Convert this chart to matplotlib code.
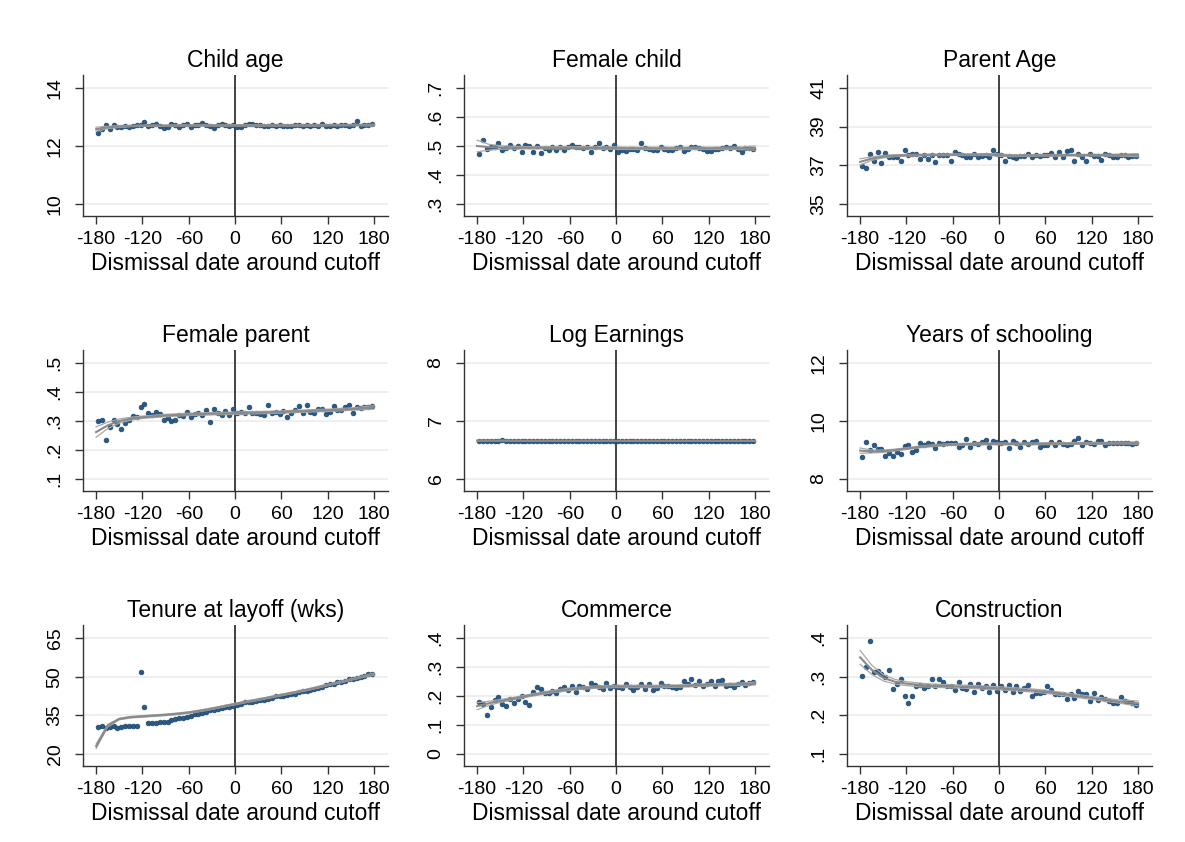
import numpy as np
import matplotlib
matplotlib.use("Agg")
import matplotlib.pyplot as plt

plt.rcParams['font.family'] = ['Liberation Sans', 'DejaVu Sans']

# bin centres (days around cutoff)
DAYS = np.arange(-177.5, 180, 5)

# grid for the fitted curves
FIT_X = np.arange(-180, 181, 15)

# --- scatter values (bin means) ---
child_age = [
    12.45, 12.60, 12.74, 12.60, 12.71, 12.66, 12.65, 12.70, 12.65, 12.68, 12.71, 12.74,
    12.84, 12.70, 12.74, 12.75, 12.70, 12.63, 12.64, 12.75, 12.72, 12.64, 12.74, 12.76,
    12.64, 12.71, 12.74, 12.79, 12.72, 12.68, 12.63, 12.74, 12.75, 12.72, 12.68, 12.71,
    12.66, 12.67, 12.74, 12.75, 12.76, 12.72, 12.71, 12.68, 12.70, 12.73, 12.69, 12.73,
    12.70, 12.70, 12.68, 12.72, 12.71, 12.69, 12.73, 12.70, 12.74, 12.70, 12.75, 12.70,
    12.69, 12.72, 12.70, 12.72, 12.73, 12.70, 12.74, 12.86, 12.68, 12.73, 12.74, 12.76]

female_child = [
    .474, .522, .491, .495, .497, .509, .485, .494, .502, .493, .499, .478,
    .503, .499, .481, .500, .476, .494, .488, .498, .487, .498, .488, .497,
    .502, .497, .497, .494, .498, .479, .497, .510, .494, .497, .491, .502,
    .481, .487, .483, .490, .490, .486, .510, .492, .491, .487, .485, .496,
    .490, .486, .488, .494, .495, .483, .490, .497, .495, .493, .491, .482,
    .483, .491, .490, .493, .496, .493, .499, .489, .479, .494, .494, .491]

parent_age = [
    36.95, 36.87, 37.60, 37.24, 37.67, 37.14, 37.62, 37.41, 37.45, 37.41, 37.24, 37.79,
    37.53, 37.60, 37.60, 37.34, 37.56, 37.32, 37.51, 37.17, 37.53, 37.54, 37.53, 37.20,
    37.69, 37.61, 37.56, 37.41, 37.44, 37.61, 37.41, 37.49, 37.54, 37.41, 37.82, 37.61,
    37.56, 37.20, 37.49, 37.44, 37.37, 37.49, 37.49, 37.60, 37.41, 37.53, 37.49, 37.56,
    37.56, 37.65, 37.44, 37.70, 37.41, 37.73, 37.82, 37.20, 37.60, 37.41, 37.24, 37.60,
    37.49, 37.49, 37.30, 37.60, 37.53, 37.41, 37.44, 37.56, 37.51, 37.45, 37.46, 37.48]

female_parent = [
    .299, .305, .236, .279, .302, .291, .274, .293, .302, .318, .313, .348,
    .360, .329, .320, .330, .325, .302, .312, .299, .302, .322, .317, .332,
    .314, .324, .327, .320, .337, .295, .340, .327, .320, .335, .320, .340,
    .326, .332, .327, .348, .329, .329, .325, .322, .354, .329, .332, .323,
    .333, .313, .329, .337, .352, .327, .354, .332, .329, .340, .341, .325,
    .330, .352, .337, .337, .349, .354, .328, .349, .346, .349, .350, .352]

log_earnings = [
    6.662, 6.664, 6.660, 6.663, 6.658, 6.662, 6.665, 6.661, 6.663, 6.659, 6.662, 6.660,
    6.661, 6.663, 6.659, 6.662, 6.660, 6.661, 6.663, 6.658, 6.661, 6.662, 6.660, 6.663,
    6.661, 6.659, 6.662, 6.660, 6.664, 6.661, 6.659, 6.662, 6.660, 6.661, 6.663, 6.660,
    6.658, 6.660, 6.661, 6.659, 6.662, 6.660, 6.661, 6.659, 6.660, 6.662, 6.658, 6.660,
    6.661, 6.659, 6.660, 6.658, 6.661, 6.659, 6.660, 6.657, 6.660, 6.658, 6.659, 6.660,
    6.657, 6.659, 6.660, 6.658, 6.660, 6.657, 6.659, 6.658, 6.660, 6.657, 6.659, 6.658]

schooling = [
    8.77, 9.28, 9.00, 9.17, 9.03, 9.05, 8.79, 8.91, 8.80, 8.93, 8.88, 9.13,
    9.17, 8.94, 9.01, 9.23, 9.19, 9.23, 9.21, 9.07, 9.23, 9.20, 9.23, 9.25,
    9.23, 9.10, 9.17, 9.37, 9.11, 9.23, 9.22, 9.28, 9.35, 9.12, 9.30, 9.28,
    9.23, 9.26, 9.07, 9.30, 9.25, 9.11, 9.27, 9.20, 9.28, 9.32, 9.11, 9.16,
    9.17, 9.26, 9.19, 9.27, 9.21, 9.19, 9.20, 9.30, 9.40, 9.17, 9.26, 9.23,
    9.21, 9.32, 9.30, 9.19, 9.25, 9.24, 9.25, 9.23, 9.25, 9.24, 9.22, 9.23]

tenure = [
    30.6, 30.8, 30.0, 30.5, 30.9, 30.2, 30.3, 30.8, 30.9, 30.8, 30.8, 51.8,
    38.1, 31.9, 31.9, 32.2, 32.4, 32.5, 32.5, 33.2, 33.4, 34.1, 34.1, 34.4,
    34.7, 35.5, 35.7, 36.0, 36.4, 36.9, 37.1, 37.4, 37.7, 38.1, 38.3, 38.8,
    39.2, 39.4, 40.1, 40.1, 40.3, 40.6, 41.0, 41.1, 41.5, 41.9, 42.4, 42.4,
    42.6, 42.8, 43.2, 43.4, 44.1, 44.3, 44.6, 44.9, 45.4, 45.6, 46.1, 46.9,
    47.0, 47.3, 48.0, 48.0, 48.4, 49.0, 49.2, 49.5, 50.0, 50.3, 50.9, 51.1]

commerce = [
    .179, .172, .135, .162, .185, .196, .174, .166, .191, .177, .189, .200,
    .181, .170, .214, .231, .225, .211, .212, .219, .212, .223, .231, .222,
    .234, .213, .234, .231, .223, .246, .239, .231, .223, .245, .228, .236,
    .232, .226, .243, .232, .222, .232, .240, .223, .241, .220, .229, .245,
    .235, .236, .232, .226, .232, .251, .241, .257, .237, .252, .235, .243,
    .252, .235, .253, .254, .235, .237, .232, .243, .250, .238, .244, .249]

construction = [
    .302, .325, .393, .312, .314, .306, .298, .316, .268, .281, .295, .251,
    .232, .250, .275, .278, .272, .276, .293, .275, .293, .286, .276, .276,
    .265, .285, .272, .267, .281, .261, .281, .271, .275, .261, .278, .264,
    .275, .266, .278, .261, .276, .262, .270, .278, .250, .257, .258, .260,
    .275, .266, .254, .256, .254, .243, .254, .245, .263, .254, .254, .237,
    .257, .240, .247, .243, .236, .233, .233, .248, .237, .234, .233, .226]

# --- fitted curves and half-width of their bands, on FIT_X ---
child_age_fit = [12.58, 12.64, 12.67, 12.69, 12.70, 12.70, 12.70, 12.71, 12.71, 12.71, 12.71, 12.71, 12.71,
                 12.71, 12.71, 12.71, 12.71, 12.71, 12.71, 12.71, 12.72, 12.72, 12.72, 12.72, 12.72]
child_age_ci = [.07, .04, .03, .02, .02, .02, .02, .02, .02, .02, .02, .02, .02,
                .02, .02, .02, .02, .02, .02, .02, .02, .02, .02, .02, .03]

female_child_fit = [.500, .496, .495, .494, .494, .494, .494, .494, .494, .494, .493, .493, .493,
                    .492, .492, .492, .492, .492, .492, .492, .492, .492, .492, .492, .493]
female_child_ci = [.020, .010, .006, .005, .004, .004, .004, .004, .004, .004, .004, .004, .004,
                   .004, .004, .004, .004, .004, .004, .004, .004, .004, .004, .005, .007]

parent_age_fit = [37.18, 37.35, 37.45, 37.50, 37.52, 37.53, 37.54, 37.54, 37.55, 37.55, 37.55, 37.56, 37.53,
                  37.50, 37.50, 37.51, 37.52, 37.52, 37.53, 37.53, 37.53, 37.53, 37.53, 37.53, 37.53]
parent_age_ci = [.16, .09, .06, .05, .04, .04, .04, .04, .04, .04, .04, .05, .06,
                 .05, .04, .04, .04, .04, .04, .04, .04, .04, .05, .06, .08]

female_parent_fit = [.262, .285, .300, .308, .313, .316, .319, .321, .323, .324, .325, .326, .327,
                     .328, .329, .330, .331, .333, .334, .336, .337, .339, .341, .344, .347]
female_parent_ci = [.018, .011, .007, .005, .004, .004, .004, .004, .004, .004, .004, .004, .004,
                    .004, .004, .004, .004, .004, .004, .004, .004, .004, .004, .005, .006]

log_earnings_fit = [6.662, 6.662, 6.662, 6.661, 6.661, 6.661, 6.661, 6.661, 6.661, 6.661, 6.661, 6.661, 6.660,
                    6.660, 6.660, 6.660, 6.660, 6.660, 6.659, 6.659, 6.659, 6.659, 6.659, 6.658, 6.658]
log_earnings_ci = [.006, .004, .003, .003, .002, .002, .002, .002, .002, .002, .002, .002, .002,
                   .002, .002, .002, .002, .002, .002, .002, .002, .002, .003, .003, .004]

schooling_fit = [8.98, 8.95, 8.96, 9.00, 9.05, 9.10, 9.14, 9.17, 9.19, 9.20, 9.21, 9.21, 9.21,
                 9.21, 9.21, 9.21, 9.22, 9.22, 9.22, 9.23, 9.23, 9.23, 9.24, 9.24, 9.24]
schooling_ci = [.09, .05, .04, .03, .03, .03, .03, .03, .03, .03, .03, .03, .03,
                .03, .03, .03, .03, .03, .03, .03, .03, .03, .03, .03, .04]

tenure_fit = [23.0, 31.0, 33.6, 34.3, 34.6, 34.9, 35.2, 35.6, 36.1, 36.8, 37.6, 38.5, 39.4,
              40.3, 41.1, 42.0, 42.9, 43.8, 44.7, 45.7, 46.8, 47.8, 48.9, 50.0, 51.0]
tenure_ci = [.9, .5, .3, .3, .3, .3, .3, .3, .3, .3, .3, .3, .3,
             .3, .3, .3, .3, .3, .3, .3, .3, .3, .3, .3, .4]

commerce_fit = [.165, .175, .183, .190, .198, .205, .212, .218, .223, .227, .230, .232, .233,
                .233, .233, .233, .233, .234, .235, .237, .238, .239, .240, .241, .243]
commerce_ci = [.012, .007, .005, .004, .004, .004, .004, .004, .004, .004, .004, .004, .004,
               .004, .004, .004, .004, .004, .004, .004, .004, .004, .004, .004, .005]

construction_fit = [.350, .318, .297, .287, .282, .279, .277, .276, .275, .274, .273, .271, .270,
                    .268, .266, .264, .261, .257, .253, .249, .245, .241, .237, .234, .231]
construction_ci = [.018, .012, .008, .006, .005, .005, .004, .004, .004, .004, .004, .004, .004,
                   .004, .004, .004, .004, .004, .004, .004, .004, .004, .004, .005, .006]

# --- panel titles and y ticks ---
titles = ["Child age", "Female child", "Parent Age",
          "Female parent", "Log Earnings", "Years of schooling",
          "Tenure at layoff (wks)", "Commerce", "Construction"]
yticks = [[10, 12, 14], [.3, .4, .5, .6, .7], [35, 37, 39, 41],
          [.1, .2, .3, .4, .5], [6, 7, 8], [8, 10, 12],
          [20, 35, 50, 65], [0, .1, .2, .3, .4], [.1, .2, .3, .4]]
ytick_labels = [["10", "12", "14"], [".3", ".4", ".5", ".6", ".7"], ["35", "37", "39", "41"],
                [".1", ".2", ".3", ".4", ".5"], ["6", "7", "8"], ["8", "10", "12"],
                ["20", "35", "50", "65"], ["0", ".1", ".2", ".3", ".4"], [".1", ".2", ".3", ".4"]]
xticks = [-180, -120, -60, 0, 60, 120, 180]

values = [child_age, female_child, parent_age, female_parent, log_earnings,
          schooling, tenure, commerce, construction]
fits = [child_age_fit, female_child_fit, parent_age_fit, female_parent_fit, log_earnings_fit,
        schooling_fit, tenure_fit, commerce_fit, construction_fit]
cis = [child_age_ci, female_child_ci, parent_age_ci, female_parent_ci, log_earnings_ci,
       schooling_ci, tenure_ci, commerce_ci, construction_ci]

W, H = 1185, 842
fig = plt.figure(figsize=(W / 100, H / 100), dpi=100)
fig.patch.set_facecolor('white')

col_left = [83, 464, 847]
row_top = [75, 350, 625]
ax_w, ax_h = 305, 141

for k in range(9):
    r, c = divmod(k, 3)
    x0 = col_left[c]
    y0 = row_top[r]
    ax = fig.add_axes([x0 / W, 1 - (y0 + ax_h) / H, ax_w / W, ax_h / H])

    yt = yticks[k]
    rng = yt[-1] - yt[0]
    ax.set_ylim(yt[0] - 0.103 * rng, yt[-1] + 0.112 * rng)
    ax.set_xlim(-197, 198)

    for t in yt:
        ax.axhline(t, color='#ececec', lw=1.2, zorder=0)
    ax.axvline(0, color='#222222', lw=1.2, zorder=1)

    ax.plot(DAYS, values[k], 'o', ms=3.4, color='#2b5a87', mec='#1a476f', mew=0.5, zorder=3)

    f = np.array(fits[k])
    ci = np.array(cis[k])
    ax.plot(FIT_X, f + ci, color='#a8a8a8', lw=0.9, zorder=4)
    ax.plot(FIT_X, f - ci, color='#a8a8a8', lw=0.9, zorder=4)
    ax.plot(FIT_X, f, color='#8a8a8a', lw=1.5, zorder=4)

    ax.set_yticks(yt)
    ax.set_yticklabels(ytick_labels[k], rotation=90, va='center')
    ax.set_xticks(xticks)
    ax.set_xticklabels([str(v) for v in xticks])
    ax.tick_params(axis='both', length=6, width=1.0, color='#333333',
                   labelsize=14, labelcolor='black')
    ax.tick_params(axis='x', pad=5)
    ax.tick_params(axis='y', pad=8)

    for s in ['top', 'right']:
        ax.spines[s].set_visible(False)
    for s in ['left', 'bottom']:
        ax.spines[s].set_color('#333333')
        ax.spines[s].set_linewidth(1.0)

    ax.set_title(titles[k], fontsize=16.5, pad=6)
    ax.set_xlabel("Dismissal date around cutoff", fontsize=16.5, labelpad=2.5)

fig.savefig("out.png", dpi=100, facecolor='white')
